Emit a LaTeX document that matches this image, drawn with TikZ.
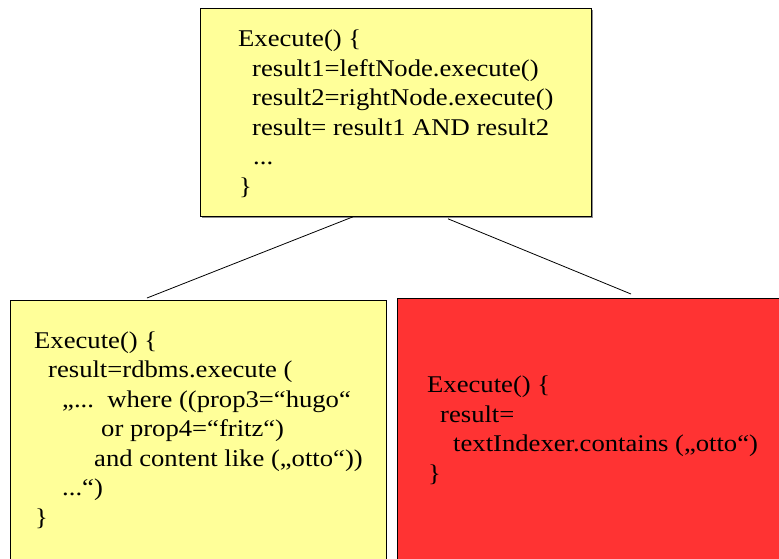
\documentclass[tikz,border=0pt]{standalone}
\usepackage{fontspec}
\setmainfont{Liberation Serif}[FakeStretch=1.11]
\usetikzlibrary{calc}
\definecolor{paleyellow}{HTML}{FFFF99}
\definecolor{alertred}{HTML}{FF3333}
\definecolor{boxshade}{HTML}{8C8C8C}
\begin{document}
\begin{tikzpicture}[x=1pt,y=-1pt,
  panel/.style={draw=black, line width=0.8pt, anchor=north west, inner sep=0pt},
  code/.style={anchor=base west, align=left, inner sep=0pt,
               font=\fontsize{24}{29.5}\selectfont},
  link/.style={draw=black, line width=0.8pt}]
\clip (0,0) rectangle (779,558);
\fill[white] (0,0) rectangle (779,558);

% AND node at the top (text anchored at the baseline of its last line)
\fill[boxshade] (202,10) rectangle (593,218);
\node[panel, fill=paleyellow, minimum width=391pt, minimum height=208pt] (parent) at (200,8) {};
\node[code] (parenttext) at (238,194) {Execute() \{\\
\hspace*{14pt}result1=leftNode.execute()\\
\hspace*{14pt}result2=rightNode.execute()\\
\hspace*{14pt}result= result1 AND result2\\
\hspace*{15pt}...\\
\hspace*{1pt}\}};

% relational child
\node[panel, fill=paleyellow, minimum width=376pt, minimum height=300pt] (left) at (10,300) {};
\node[code] (lefttext) at (34,525) {Execute() \{\\
\hspace*{14pt}result=rdbms.execute (\\
\hspace*{28pt}„...\ \ where ((prop3=“hugo“\\
\hspace*{67pt}or prop4=“fritz“)\\
\hspace*{60pt}and content like („otto“))\\
\hspace*{28pt}...“)\\
\hspace*{1pt}\}};

% full-text child
\node[panel, fill=alertred, minimum width=400pt, minimum height=300pt] (right) at (397,298) {};
\node[code] (righttext) at (427,481) {Execute() \{\\
\hspace*{13pt}result=\\
\hspace*{26pt}textIndexer.contains („otto“)\\
\hspace*{1pt}\}};

% tree edges
\coordinate (pl) at ($(parent.south west)+(153,0)$);
\coordinate (cl) at ($(left.north west)+(137,-2)$);
\coordinate (pr) at ($(parent.south west)+(248,2)$);
\coordinate (cr) at ($(right.north west)+(234,-4)$);
\draw[link] (pl) -- (cl);
\draw[link] (pr) -- (cr);
\end{tikzpicture}
\end{document}
